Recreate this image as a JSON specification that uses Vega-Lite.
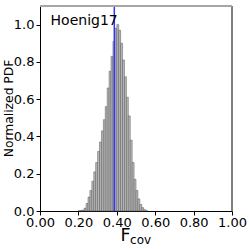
{
  "$schema": "https://vega.github.io/schema/vega-lite/v6.json",
  "width": 192,
  "height": 205,
  "autosize": {"type": "none"},
  "padding": {"left": 40, "top": 6, "right": 17, "bottom": 38},
  "background": "white",
  "config": {
    "view": {"stroke": null},
    "font": "DejaVu Sans",
    "axis": {
      "grid": false,
      "domainColor": "black",
      "domainWidth": 1,
      "tickColor": "black",
      "tickSize": 4,
      "labelColor": "black",
      "labelFont": "DejaVu Sans",
      "labelFontSize": 13,
      "labelOverlap": false,
      "labelFlush": false,
      "titleFont": "DejaVu Sans",
      "titleColor": "black",
      "titleFontWeight": "normal"
    }
  },
  "layer": [
    {
      "data": {
        "values": [
          {"lo": 0.20, "hi": 0.21, "pdf": 0.002},
          {"lo": 0.21, "hi": 0.22, "pdf": 0.003},
          {"lo": 0.22, "hi": 0.23, "pdf": 0.005},
          {"lo": 0.23, "hi": 0.24, "pdf": 0.015},
          {"lo": 0.24, "hi": 0.25, "pdf": 0.04},
          {"lo": 0.25, "hi": 0.26, "pdf": 0.075},
          {"lo": 0.26, "hi": 0.27, "pdf": 0.11},
          {"lo": 0.27, "hi": 0.28, "pdf": 0.16},
          {"lo": 0.28, "hi": 0.29, "pdf": 0.21},
          {"lo": 0.29, "hi": 0.30, "pdf": 0.26},
          {"lo": 0.30, "hi": 0.31, "pdf": 0.32},
          {"lo": 0.31, "hi": 0.32, "pdf": 0.37},
          {"lo": 0.32, "hi": 0.33, "pdf": 0.43},
          {"lo": 0.33, "hi": 0.34, "pdf": 0.49},
          {"lo": 0.34, "hi": 0.35, "pdf": 0.56},
          {"lo": 0.35, "hi": 0.36, "pdf": 0.66},
          {"lo": 0.36, "hi": 0.37, "pdf": 0.75},
          {"lo": 0.37, "hi": 0.38, "pdf": 0.83},
          {"lo": 0.38, "hi": 0.39, "pdf": 0.91},
          {"lo": 0.39, "hi": 0.40, "pdf": 0.98},
          {"lo": 0.40, "hi": 0.41, "pdf": 1.0},
          {"lo": 0.41, "hi": 0.42, "pdf": 0.97},
          {"lo": 0.42, "hi": 0.43, "pdf": 0.90},
          {"lo": 0.43, "hi": 0.44, "pdf": 0.81},
          {"lo": 0.44, "hi": 0.45, "pdf": 0.72},
          {"lo": 0.45, "hi": 0.46, "pdf": 0.61},
          {"lo": 0.46, "hi": 0.47, "pdf": 0.51},
          {"lo": 0.47, "hi": 0.48, "pdf": 0.38},
          {"lo": 0.48, "hi": 0.49, "pdf": 0.26},
          {"lo": 0.49, "hi": 0.50, "pdf": 0.17},
          {"lo": 0.50, "hi": 0.51, "pdf": 0.11},
          {"lo": 0.51, "hi": 0.52, "pdf": 0.065},
          {"lo": 0.52, "hi": 0.53, "pdf": 0.035},
          {"lo": 0.53, "hi": 0.54, "pdf": 0.018},
          {"lo": 0.54, "hi": 0.55, "pdf": 0.007},
          {"lo": 0.55, "hi": 0.56, "pdf": 0.002}
        ]
      },
      "mark": {"type": "bar", "fill": "#bbbbbb", "stroke": "#555555", "strokeWidth": 0.5},
      "encoding": {
        "x": {
          "field": "lo", "type": "quantitative",
          "scale": {"domain": [0, 1], "nice": false, "zero": false},
          "axis": {"values": [0, 0.2, 0.4, 0.6, 0.8, 1.0], "format": ".2f", "title": null, "labelPadding": 1, "labelOverlap": false}
        },
        "x2": {"field": "hi"},
        "y": {
          "field": "pdf", "type": "quantitative",
          "scale": {"domain": [0, 1.1], "nice": false},
          "axis": {
            "values": [0, 0.2, 0.4, 0.6, 0.8, 1.0], "format": ".1f",
            "title": "Normalized PDF", "titleFontSize": 12.3,
            "titleX": -32, "titleY": 102, "titleAngle": 270,
            "titleAlign": "center", "titleBaseline": "middle", "labelPadding": 2,
            "labelOverlap": false
          }
        },
        "y2": {"datum": 0}
      }
    },
    {
      "data": {"values": [{}]},
      "mark": {"type": "rule", "color": "#3333ff", "strokeWidth": 1.5},
      "encoding": {"x": {"datum": 0.387, "type": "quantitative", "axis": {"values": [0, 0.2, 0.4, 0.6, 0.8, 1.0], "format": ".2f", "title": null, "labelPadding": 1, "labelOverlap": false}}}
    },
    {
      "data": {"values": [{}]},
      "mark": {"type": "rule", "color": "black", "strokeWidth": 1},
      "encoding": {"x": {"datum": 1.0, "type": "quantitative", "axis": {"values": [0, 0.2, 0.4, 0.6, 0.8, 1.0], "format": ".2f", "title": null, "labelPadding": 1, "labelOverlap": false}}}
    },
    {
      "data": {"values": [{}]},
      "mark": {"type": "rule", "color": "#a6a6a6", "strokeWidth": 2},
      "encoding": {"y": {"datum": 1.1, "type": "quantitative", "axis": {
            "values": [0, 0.2, 0.4, 0.6, 0.8, 1.0], "format": ".1f",
            "title": "Normalized PDF", "titleFontSize": 12.3,
            "titleX": -32, "titleY": 102, "titleAngle": 270,
            "titleAlign": "center", "titleBaseline": "middle", "labelPadding": 2,
            "labelOverlap": false
          }}}
    },
    {
      "data": {"values": [{}]},
      "mark": {"type": "text", "text": "Hoenig17", "fontSize": 14, "align": "left", "baseline": "alphabetic", "color": "black"},
      "encoding": {
        "x": {"datum": 0.055, "type": "quantitative", "axis": {"values": [0, 0.2, 0.4, 0.6, 0.8, 1.0], "format": ".2f", "title": null, "labelPadding": 1, "labelOverlap": false}},
        "y": {"datum": 1.0, "type": "quantitative", "axis": {
            "values": [0, 0.2, 0.4, 0.6, 0.8, 1.0], "format": ".1f",
            "title": "Normalized PDF", "titleFontSize": 12.3,
            "titleX": -32, "titleY": 102, "titleAngle": 270,
            "titleAlign": "center", "titleBaseline": "middle", "labelPadding": 2,
            "labelOverlap": false
          }}
      }
    },
    {
      "data": {"values": [{}]},
      "mark": {"type": "text", "text": "F", "fontSize": 17.5, "align": "left", "baseline": "alphabetic", "color": "black", "clip": false},
      "encoding": {
        "x": {"datum": 0.419, "type": "quantitative", "axis": {"values": [0, 0.2, 0.4, 0.6, 0.8, 1.0], "format": ".2f", "title": null, "labelPadding": 1, "labelOverlap": false}},
        "y": {"datum": -0.159, "type": "quantitative", "axis": {
            "values": [0, 0.2, 0.4, 0.6, 0.8, 1.0], "format": ".1f",
            "title": "Normalized PDF", "titleFontSize": 12.3,
            "titleX": -32, "titleY": 102, "titleAngle": 270,
            "titleAlign": "center", "titleBaseline": "middle", "labelPadding": 2,
            "labelOverlap": false
          }}
      }
    },
    {
      "data": {"values": [{}]},
      "mark": {"type": "text", "text": "cov", "fontSize": 12, "align": "left", "baseline": "alphabetic", "color": "black", "clip": false},
      "encoding": {
        "x": {"datum": 0.469, "type": "quantitative", "axis": {"values": [0, 0.2, 0.4, 0.6, 0.8, 1.0], "format": ".2f", "title": null, "labelPadding": 1, "labelOverlap": false}},
        "y": {"datum": -0.175, "type": "quantitative", "axis": {
            "values": [0, 0.2, 0.4, 0.6, 0.8, 1.0], "format": ".1f",
            "title": "Normalized PDF", "titleFontSize": 12.3,
            "titleX": -32, "titleY": 102, "titleAngle": 270,
            "titleAlign": "center", "titleBaseline": "middle", "labelPadding": 2,
            "labelOverlap": false
          }}
      }
    }
  ]
}
